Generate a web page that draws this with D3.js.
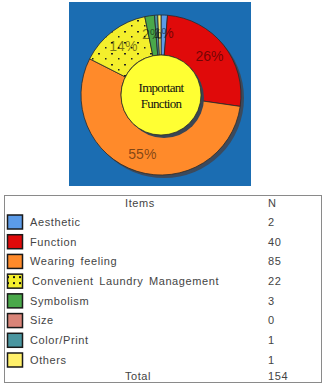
<!DOCTYPE html>
<html>
<head>
<meta charset="utf-8">
<script src="https://cdn.jsdelivr.net/npm/d3@7"></script>
<style>
  body { margin: 0; background: #fff; }
  svg { display: block; }
</style>
</head>
<body>
<svg id="chart" width="325" height="385"></svg>
<script>
// data
const items = ["Aesthetic", "Function", "Wearing feeling", "Convenient Laundry Management",
               "Symbolism", "Size", "Color/Print", "Others"];
const counts = [2, 40, 85, 22, 3, 0, 1, 1];
const colors = ["#5b9be8", "#e00a0a", "#ff8a2a", "#f4ef2c", "#4aa84a", "#d98478", "#4a96a0", "#fff06a"];
const totalLabel = "Total";
const centerText = ["Important", "Function"];

const total = d3.sum(counts);
const svg = d3.select("#chart");

// dotted pattern for laundry
const defs = svg.append("defs");
const pat = defs.append("pattern")
    .attr("id", "dots")
    .attr("patternUnits", "userSpaceOnUse")
    .attr("width", 13).attr("height", 11);
pat.append("rect").attr("width", 13).attr("height", 11).attr("fill", colors[3]);
pat.append("rect").attr("x", 2).attr("y", 2).attr("width", 2).attr("height", 1.5).attr("fill", "#222");
pat.append("rect").attr("x", 9).attr("y", 7).attr("width", 1.5).attr("height", 1.5).attr("fill", "#222");

const swPat = defs.append("pattern")
    .attr("id", "dotsSmall")
    .attr("patternUnits", "userSpaceOnUse")
    .attr("width", 6).attr("height", 6);
swPat.append("rect").attr("width", 6).attr("height", 6).attr("fill", colors[3]);
swPat.append("rect").attr("x", 1).attr("y", 1).attr("width", 2).attr("height", 2).attr("fill", "#111");

function fillFor(i, small) {
    if (i === 3) return small ? "url(#dotsSmall)" : "url(#dots)";
    return colors[i];
}

//////////////////////////
// donut
//////////////////////////
svg.append("rect")
    .attr("x", 69).attr("y", 2)
    .attr("width", 182).attr("height", 184)
    .attr("fill", "#1b6db2");

const cx = 161, cy = 95;
const outerR = 80, innerR = 40;

const g = svg.append("g").attr("transform", "translate(" + cx + "," + cy + ")");

// shadow ring
g.append("circle")
    .attr("cx", 3).attr("cy", 3)
    .attr("r", outerR)
    .attr("fill", "#3c4a5c");

const pie = d3.pie().sort(null).startAngle(0).endAngle(2 * Math.PI);
const arcs = pie(counts);

const arc = d3.arc().innerRadius(innerR).outerRadius(outerR);

g.selectAll(".slice")
    .data(arcs)
    .enter()
    .filter(function(d) { return d.data > 0; })
    .append("path")
    .attr("class", "slice")
    .attr("d", arc)
    .attr("fill", function(d) { return fillFor(d.index, false); })
    .attr("stroke", "#2a2a2a")
    .attr("stroke-width", 0.8);

// center circle with shadow
g.append("circle").attr("cx", 3).attr("cy", 3).attr("r", innerR).attr("fill", "#3a4654");
g.append("circle").attr("r", innerR).attr("fill", "#ffff33")
    .attr("stroke", "#222").attr("stroke-width", 0.7);

g.selectAll(".center-text")
    .data(centerText)
    .enter()
    .append("text")
    .attr("class", "center-text")
    .attr("x", 0)
    .attr("y", function(d, i) { return -3 + i * 16; })
    .attr("text-anchor", "middle")
    .attr("font-family", "Liberation Serif, DejaVu Serif, serif")
    .attr("font-size", 13)
    .attr("letter-spacing", -0.7)
    .attr("fill", "#111")
    .text(function(d) { return d; });

// percent labels
const labelArc = d3.arc().innerRadius(62).outerRadius(62);
g.selectAll(".pct")
    .data(arcs)
    .enter()
    .filter(function(d) { return d.data >= 2; })
    .append("text")
    .attr("class", "pct")
    .attr("transform", function(d) {
        return "translate(" + labelArc.centroid(d) + ")";
    })
    .attr("dy", "0.35em")
    .attr("text-anchor", "middle")
    .attr("font-family", "Liberation Sans, Arial, sans-serif")
    .attr("font-size", 14)
    .attr("fill", "#000")
    .attr("fill-opacity", 0.5)
    .text(function(d) { return Math.round(d.data / total * 100) + "%"; });

//////////////////////////
// legend table
//////////////////////////
svg.append("rect")
    .attr("x", 4.5).attr("y", 195.5)
    .attr("width", 317).attr("height", 187)
    .attr("fill", "none")
    .attr("stroke", "#8a8a8a")
    .attr("stroke-width", 1);

const rowY = d3.scalePoint()
    .domain(d3.range(items.length))
    .range([222, 360]);

const textStyle = function(sel) {
    sel.attr("font-family", "Liberation Sans, Arial, sans-serif")
        .attr("font-size", 11)
        .attr("letter-spacing", 0.6)
        .attr("word-spacing", 2)
        .attr("fill", "#444")
        .attr("dy", "0.35em");
};

svg.append("text").attr("x", 140).attr("y", 203).attr("text-anchor", "middle")
    .text("Items").call(textStyle);
svg.append("text").attr("x", 268).attr("y", 203)
    .text("N").call(textStyle);

const rows = svg.selectAll(".row")
    .data(items)
    .enter()
    .append("g")
    .attr("class", "row")
    .attr("transform", function(d, i) { return "translate(0," + rowY(i) + ")"; });

rows.append("rect")
    .attr("x", 7.5).attr("y", -7)
    .attr("width", 15).attr("height", 14)
    .attr("fill", function(d, i) { return fillFor(i, true); })
    .attr("stroke", "#1a1a1a")
    .attr("stroke-width", 1.5);

rows.append("text")
    .attr("x", function(d, i) { return i === 3 ? 32 : 30; })
    .attr("y", 0)
    .text(function(d) { return d; })
    .call(textStyle);

rows.append("text")
    .attr("x", 268)
    .attr("y", 0)
    .text(function(d, i) { return counts[i]; })
    .call(textStyle);

svg.append("text").attr("x", 138).attr("y", 376).attr("text-anchor", "middle")
    .text(totalLabel).call(textStyle);
svg.append("text").attr("x", 268).attr("y", 376)
    .text(total).call(textStyle);
</script>
</body>
</html>
